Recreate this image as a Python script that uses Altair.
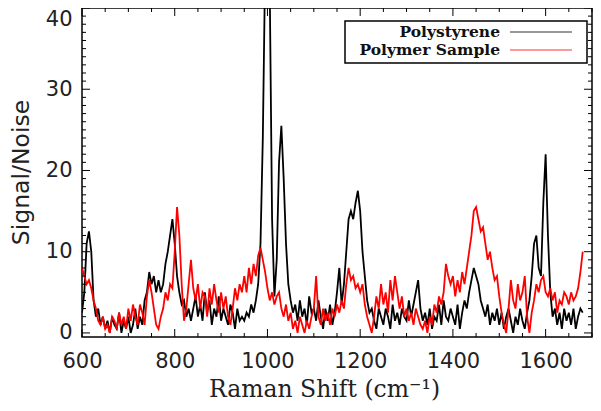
import altair as alt
import pandas as pd

# Raman shift sample positions (cm^-1)
shift = list(range(600, 1681, 5))

# Polystyrene signal/noise in 50 cm^-1 blocks
b600 = [2.5, 5, 11, 12.5, 10, 4, 2, 3, 1, 2]
b650 = [0.5, 1.5, 0, 2, 1, 0.5, 2.5, 0, 1.5, 0.5]
b700 = [2, 0, 1, 3, 0.5, 2, 1, 4, 5, 7.5]
b750 = [6, 7, 5, 6.5, 5, 6, 8.5, 10, 12, 14]
b800 = [11, 7, 5, 3.5, 4, 2, 3, 1.5, 3, 4.5]
b850 = [2, 3.5, 1.5, 5, 2.5, 4, 1, 3, 2, 4.5]
b900 = [1.5, 3, 2, 1, 3.5, 2.5, 0.5, 3, 1.5, 2]
b950 = [1.5, 2.5, 2, 3.5, 2.5, 4, 6, 11, 24, 45]
b1000 = [55, 42, 14, 4.5, 9, 21, 25.5, 19, 11, 6]
b1050 = [4, 2.5, 3.5, 1.5, 4, 2, 3, 1, 4.5, 2.5]
b1100 = [3, 1.5, 4, 2, 0.5, 3, 1.5, 3.5, 1, 2.5]
b1150 = [5, 8, 3.5, 6, 10, 14, 15, 14, 16, 17.5]
b1200 = [15, 10, 7, 4, 2.5, 3, 1.5, 0.5, 3, 2]
b1250 = [1, 3, 2, 0.5, 3.5, 1.5, 2.5, 1, 3, 2]
b1300 = [1.5, 4, 2, 3.5, 5, 6.5, 3, 1.5, 2.5, 1]
b1350 = [3, 0.5, 2, 1.5, 3.5, 1, 4, 2, 1.5, 3]
b1400 = [2, 1, 3.5, 0.5, 2.5, 4, 3, 5, 6.5, 8]
b1450 = [7, 6, 4, 3, 2, 3.5, 1, 2.5, 1.5, 3]
b1500 = [1, 2.5, 0.5, 2, 3, 1.5, 0, 2, 1, 3]
b1550 = [1.5, 0.5, 2.5, 4, 7, 11, 12, 8, 7, 16]
b1600 = [22, 12, 5, 2, 3, 1, 2.5, 0.5, 3, 1.5]
b1650 = [2.5, 1, 3, 0.5, 2, 3, 2.5]

# Polymer sample signal/noise
r600 = [8, 7, 6, 6.5, 5.5, 4, 3, 1.5, 1, 2]
r650 = [0.5, 1, 0, 2, 1.5, 0.5, 2.5, 1, 2, 0.5]
r700 = [3, 1.5, 3.5, 2, 1, 3.5, 2.5, 1, 4.5, 6.5]
r750 = [5, 3, 1, 0.5, 2, 3, 5, 4, 6, 5.5]
r800 = [10, 15.5, 12, 6, 1.5, 3, 6, 9, 5.5, 4]
r850 = [6, 3, 5, 4.5, 2, 5.5, 3.5, 6, 4, 2.5]
r900 = [5, 3, 4.5, 2, 1, 3, 5.5, 4, 6, 5]
r950 = [7, 5, 8, 6, 8.5, 7, 9.5, 10.5, 9, 7.5]
r1000 = [5.5, 4, 5, 3.5, 4.5, 5, 3, 2, 3.5, 1.5]
r1050 = [2.5, 0.5, 1.5, 0, 2, 1, 0, 1.5, 0.5, 2]
r1100 = [3, 7, 2, 1, 3, 1.5, 2.5, 1, 3, 2]
r1150 = [3.5, 2.5, 4, 3, 6, 8, 6.5, 7, 5.5, 6]
r1200 = [5, 6, 3.5, 2, 1, 0, 2, 4.5, 3, 6]
r1250 = [3.5, 5, 2.5, 6.5, 4, 7, 5, 3, 4.5, 2]
r1300 = [3, 1.5, 2.5, 1, 3, 2, 1, 0.5, 1.5, 0]
r1350 = [2, 1, 3.5, 2.5, 4.5, 3.5, 5, 8.5, 7, 6]
r1400 = [7, 4.5, 6.5, 5, 7.5, 6, 8, 10, 12, 15]
r1450 = [15.5, 14, 12.5, 13, 11, 9, 10, 8, 6.5, 7]
r1500 = [4.5, 2.5, 1, 0, 3, 6.5, 4, 3, 6, 4]
r1550 = [5, 7, 2, 0, 2.5, 4, 6, 5, 6.5, 7]
r1600 = [5, 4.5, 5.5, 4, 5, 2.5, 4, 3.5, 5, 4.5]
r1650 = [3.5, 5, 4, 4.5, 5.5, 7.5, 10]

polystyrene = (b600 + b650 + b700 + b750 + b800 + b850 + b900 + b950 + b1000 + b1050
               + b1100 + b1150 + b1200 + b1250 + b1300 + b1350 + b1400 + b1450 + b1500
               + b1550 + b1600 + b1650)
polymer = (r600 + r650 + r700 + r750 + r800 + r850 + r900 + r950 + r1000 + r1050
           + r1100 + r1150 + r1200 + r1250 + r1300 + r1350 + r1400 + r1450 + r1500
           + r1550 + r1600 + r1650)

series_names = ["Polystyrene", "Polymer Sample"]
series_colors = ["#000000", "#ff0000"]

x_major = [600, 800, 1000, 1200, 1400, 1600]
x_minor = [650, 700, 750, 850, 900, 950, 1050, 1100, 1150, 1250, 1300, 1350,
           1450, 1500, 1550, 1650, 1700]
y_major = [0, 10, 20, 30, 40]
y_minor = [1, 2, 3, 4, 5, 6, 7, 8, 9, 11, 12, 13, 14, 15, 16, 17, 18, 19,
           21, 22, 23, 24, 25, 26, 27, 28, 29, 31, 32, 33, 34, 35, 36, 37, 38, 39]

W, H = 510, 329
xs = alt.Scale(domain=[600, 1700], nice=False, zero=False)
ys = alt.Scale(domain=[-0.5, 40], nice=False, zero=False)

df = pd.DataFrame({"shift": shift, "ps": polystyrene, "pm": polymer})

x_axis = alt.Axis(values=x_major, format="d", title="Raman Shift (cm⁻¹)", ticks=False,
                  domain=False, grid=False, labelFlush=False, labelFont="DejaVu Sans",
                  labelFontSize=21, labelColor="#222", labelPadding=13,
                  titleFont="DejaVu Serif", titleFontSize=23.5, titleFontWeight="normal",
                  titleColor="#222", titleX=242, titleY=52, titleBaseline="middle")
y_axis = alt.Axis(values=y_major, format="d", title="Signal/Noise", ticks=False,
                  domain=False, grid=False, labelFlush=2, labelFont="DejaVu Sans",
                  labelFontSize=21, labelColor="#222", labelPadding=10,
                  titleFont="DejaVu Sans", titleFontSize=23.5, titleFontWeight="normal",
                  titleColor="#222", titleX=-61, titleY=164, titleBaseline="middle",
                  titleAlign="center", titleAngle=270)

black = alt.Chart(df).mark_line(color=series_colors[0], strokeWidth=1.8, clip=True).encode(
    x=alt.X("shift:Q", scale=xs, axis=x_axis),
    y=alt.Y("ps:Q", scale=ys, axis=y_axis),
)
red = alt.Chart(df).mark_line(color=series_colors[1], strokeWidth=1.8, clip=True).encode(
    x=alt.X("shift:Q", scale=xs, axis=x_axis),
    y=alt.Y("pm:Q", scale=ys, axis=y_axis),
)

def xticks(vals, length):
    d = pd.DataFrame({"v": vals})
    bot = alt.Chart(d).mark_rule(color="black", strokeWidth=1).encode(
        x=alt.X("v:Q", scale=xs, axis=x_axis), y=alt.value(H), y2=alt.value(H - length))
    top = alt.Chart(d).mark_rule(color="black", strokeWidth=1).encode(
        x=alt.X("v:Q", scale=xs, axis=x_axis), y=alt.value(0), y2=alt.value(length))
    return [bot, top]

def yticks(vals, length):
    d = pd.DataFrame({"v": vals})
    left = alt.Chart(d).mark_rule(color="black", strokeWidth=1).encode(
        y=alt.Y("v:Q", scale=ys, axis=y_axis), x=alt.value(0), x2=alt.value(length))
    right = alt.Chart(d).mark_rule(color="black", strokeWidth=1).encode(
        y=alt.Y("v:Q", scale=ys, axis=y_axis), x=alt.value(W), x2=alt.value(W - length))
    return [left, right]

tick_layers = xticks(x_major, 8) + xticks(x_minor, 4) + yticks(y_major, 8) + yticks(y_minor, 4)

one = pd.DataFrame({"a": [0]})
legend_box = alt.Chart(one).mark_rect(fill="white", stroke="black", strokeWidth=1.5).encode(
    x=alt.value(263), x2=alt.value(505), y=alt.value(13), y2=alt.value(55))

legend_layers = [legend_box]
for i, (name, col) in enumerate(zip(series_names, series_colors)):
    yy = 24 + 18 * i
    legend_layers.append(
        alt.Chart(one).mark_text(align="right", baseline="middle", font="DejaVu Serif",
                                 fontWeight="bold", fontSize=15.5, color="#111").encode(
            x=alt.value(418), y=alt.value(yy), text=alt.value(name)))
    legend_layers.append(
        alt.Chart(one).mark_rule(color=col, strokeWidth=1.2, opacity=0.8).encode(
            x=alt.value(428), x2=alt.value(490), y=alt.value(yy)))

chart = alt.layer(black, red, *tick_layers, *legend_layers).properties(
    width=W, height=H,
    autosize="none",
    padding={"left": 74, "top": 0, "right": 1, "bottom": 66},
).configure_view(stroke="black", strokeWidth=1.5)

chart.save("out.html", embed_options={"renderer": "svg", "actions": False})
